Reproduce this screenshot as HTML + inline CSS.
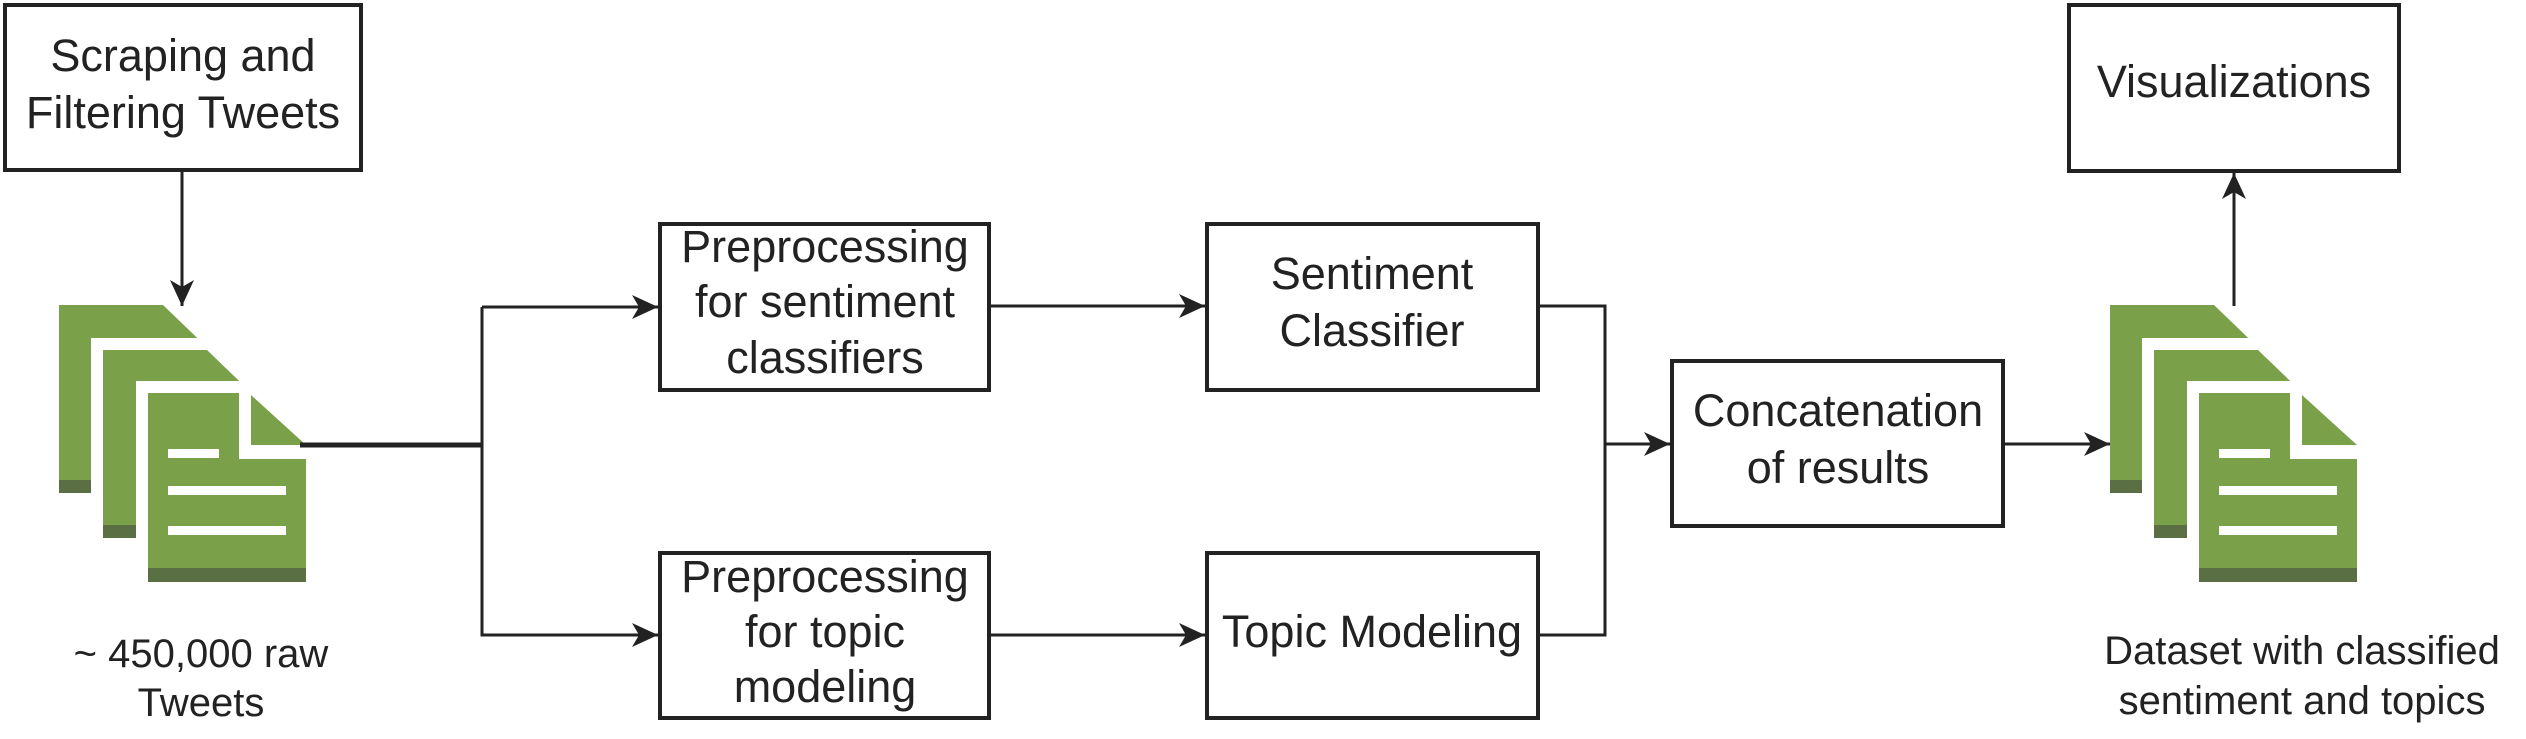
<!DOCTYPE html>
<html><head><meta charset="utf-8"><style>
html,body{margin:0;padding:0;background:#fff;}
svg{display:block;}
text{font-family:"Liberation Sans",Arial,sans-serif;fill:#222;}
</style></head><body>
<svg width="2526" height="739" viewBox="0 0 2526 739" xmlns="http://www.w3.org/2000/svg">
<defs>
<marker id="ah" markerWidth="26" markerHeight="24" refX="26" refY="12" orient="auto" markerUnits="userSpaceOnUse">
<path d="M0,0 L26,12 L0,24 L7,12 Z" fill="#222"/>
</marker>
<g id="doc">
  <polygon points="0,0 104,0 158,52 158,188 0,188" fill="#7aa04a"/>
  <rect x="0" y="175" width="158" height="13" fill="#5a6f44"/>
  <rect x="32" y="33" width="180" height="210" fill="#fff"/>
  <polygon points="44,45 148,45 202,97 202,233 44,233" fill="#7aa04a"/>
  <rect x="44" y="220" width="158" height="13" fill="#5a6f44"/>
  <rect x="77" y="76" width="200" height="220" fill="#fff"/>
  <polygon points="89,88 180,88 180,154 247,154 247,277 89,277" fill="#7aa04a"/>
  <polygon points="192,90 247,140 192,140" fill="#7aa04a"/>
  <rect x="89" y="263" width="158" height="14" fill="#5a6f44"/>
  <rect x="109" y="144" width="51" height="9" fill="#fff"/>
  <rect x="109" y="181" width="118" height="9" fill="#fff"/>
  <rect x="109" y="221" width="118" height="9" fill="#fff"/>
</g>
</defs>

<use href="#doc" x="59" y="305"/>
<use href="#doc" x="2110" y="305"/>

<g fill="none" stroke="#222">
  <rect x="5" y="5" width="356" height="165" stroke-width="4"/>
  <rect x="660" y="224" width="329" height="166" stroke-width="4"/>
  <rect x="1207" y="224" width="331" height="166" stroke-width="4"/>
  <rect x="660" y="553" width="329" height="165" stroke-width="4"/>
  <rect x="1207" y="553" width="331" height="165" stroke-width="4"/>
  <rect x="1672" y="361" width="331" height="165" stroke-width="4"/>
  <rect x="2069" y="5" width="330" height="166" stroke-width="4"/>

  <line x1="182" y1="171" x2="182" y2="306" stroke-width="3" marker-end="url(#ah)"/>
  <polyline points="300,445 482,445" stroke-width="5"/>
  <polyline points="482,307 482,635 658,635" stroke-width="3" marker-end="url(#ah)"/>
  <line x1="482" y1="307" x2="658" y2="307" stroke-width="3" marker-end="url(#ah)"/>
  <line x1="989" y1="306" x2="1205" y2="306" stroke-width="3" marker-end="url(#ah)"/>
  <line x1="989" y1="635" x2="1205" y2="635" stroke-width="3" marker-end="url(#ah)"/>
  <polyline points="1538,306 1605,306 1605,635 1538,635" stroke-width="3"/>
  <line x1="1605" y1="444" x2="1670" y2="444" stroke-width="3" marker-end="url(#ah)"/>
  <line x1="2003" y1="444" x2="2110" y2="444" stroke-width="3" marker-end="url(#ah)"/>
  <line x1="2234" y1="306" x2="2234" y2="173" stroke-width="3" marker-end="url(#ah)"/>
</g>

<g font-size="45" text-anchor="middle">
  <text x="183" y="71">Scraping and</text>
  <text x="183" y="128">Filtering Tweets</text>
  <text x="825" y="262">Preprocessing</text>
  <text x="825" y="317">for sentiment</text>
  <text x="825" y="373">classifiers</text>
  <text x="1372" y="289">Sentiment</text>
  <text x="1372" y="346">Classifier</text>
  <text x="825" y="592">Preprocessing</text>
  <text x="825" y="647">for topic</text>
  <text x="825" y="702">modeling</text>
  <text x="1372" y="647">Topic Modeling</text>
  <text x="1838" y="426">Concatenation</text>
  <text x="1838" y="483">of results</text>
  <text x="2234" y="97">Visualizations</text>
</g>
<g font-size="40" text-anchor="middle">
  <text x="201" y="667">~ 450,000 raw</text>
  <text x="201" y="716">Tweets</text>
  <text x="2302" y="664">Dataset with classified</text>
  <text x="2302" y="714">sentiment and topics</text>
</g>
</svg>
</body></html>
